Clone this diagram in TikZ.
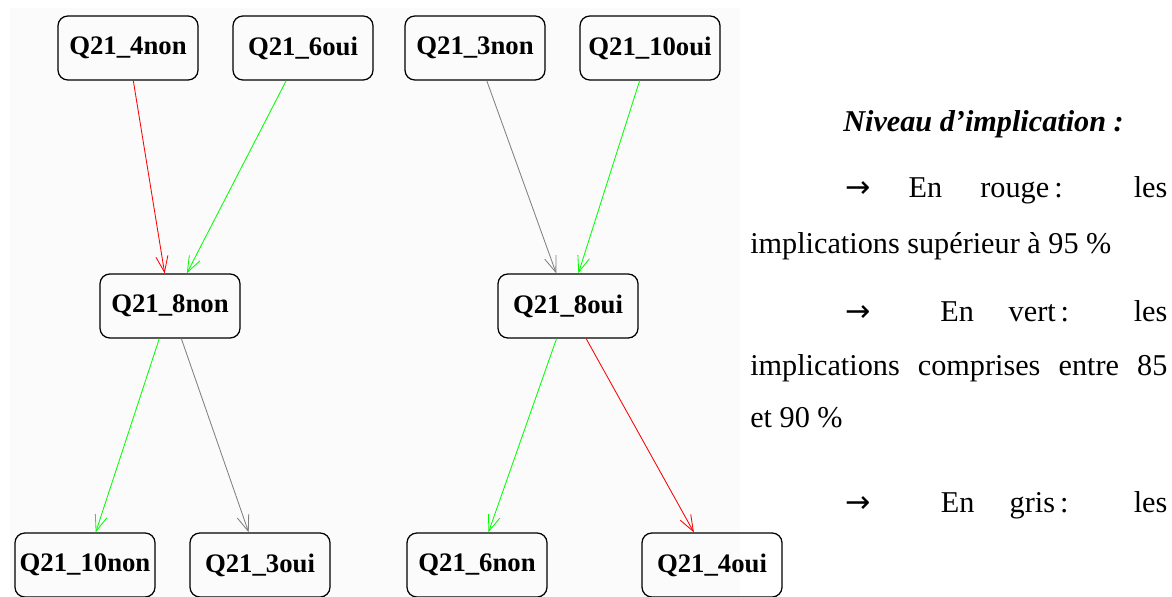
\documentclass[tikz,border=0pt]{standalone}
\usepackage{fontspec}
\setmainfont{Liberation Serif}
\newfontfamily\arrowfont{DejaVu Sans}
\usetikzlibrary{arrows.meta}
\begin{document}
\begin{tikzpicture}[x=0.025cm, y=-0.025cm,
  qbox/.style={draw, rounded corners=7pt, line width=0.9pt, minimum width=3.5cm, minimum height=1.6cm, font=\fontsize{19}{22}\selectfont\bfseries},
  impl/.style={-{Straight Barb[length=4mm,width=3mm]}, line width=0.6pt},
  legend/.style={anchor=base west, inner sep=0pt, font=\fontsize{21.5}{26}\selectfont}]
\useasboundingbox (0,0) rectangle (1172,597);
\fill[gray!3] (10,8) rectangle (740,597);
% top row
\node[qbox] (q4non) at (128,48) {Q21\_4non};
\node[qbox] (q6oui) at (303,48) {Q21\_6oui};
\node[qbox] (q3non) at (475,48) {Q21\_3non};
\node[qbox] (q10oui) at (650,48) {Q21\_10oui};
% middle row
\node[qbox] (q8non) at (170,306) {Q21\_8non};
\node[qbox] (q8oui) at (568,306) {Q21\_8oui};
% bottom row
\node[qbox] (q10non) at (85,565) {Q21\_10non};
\node[qbox] (q3oui) at (260,565) {Q21\_3oui};
\node[qbox] (q6non) at (477,565) {Q21\_6non};
\node[qbox] (q4oui) at (712,565) {Q21\_4oui};
\draw[impl, red] (q4non) -- (q8non);
\draw[impl, green] (q6oui) -- (q8non);
\draw[impl, gray] (q3non) -- (q8oui);
\draw[impl, green] (q10oui) -- (q8oui);
\draw[impl, green] (q8non) -- (q10non);
\draw[impl, gray] (q8non) -- (q3oui);
\draw[impl, green] (q8oui) -- (q6non);
\draw[impl, red] (q8oui) -- (q4oui);
% legend
\node[legend, font=\fontsize{21.5}{26}\selectfont\bfseries\itshape] (ltitle) at (843,132) {Niveau d’implication :};
\node[legend] (lrouge) at (845,198) {\makebox[8.05cm][s]{{\arrowfont →} En rouge\,: les}};
\node[legend] (lrougeb) at (750,253) {implications supérieur à 95 \%};
\node[legend] (lvert) at (845,321) {\makebox[8.05cm][s]{{\arrowfont →} \ En vert\,: les}};
\node[legend] (lvertb) at (750,375) {\makebox[10.425cm][s]{implications comprises entre 85}};
\node[legend] (lvertc) at (750,427) {et 90 \%};
\node[legend] (lgris) at (845,512) {\makebox[8.05cm][s]{{\arrowfont →} \ En gris\,: les}};
\end{tikzpicture}
\end{document}
